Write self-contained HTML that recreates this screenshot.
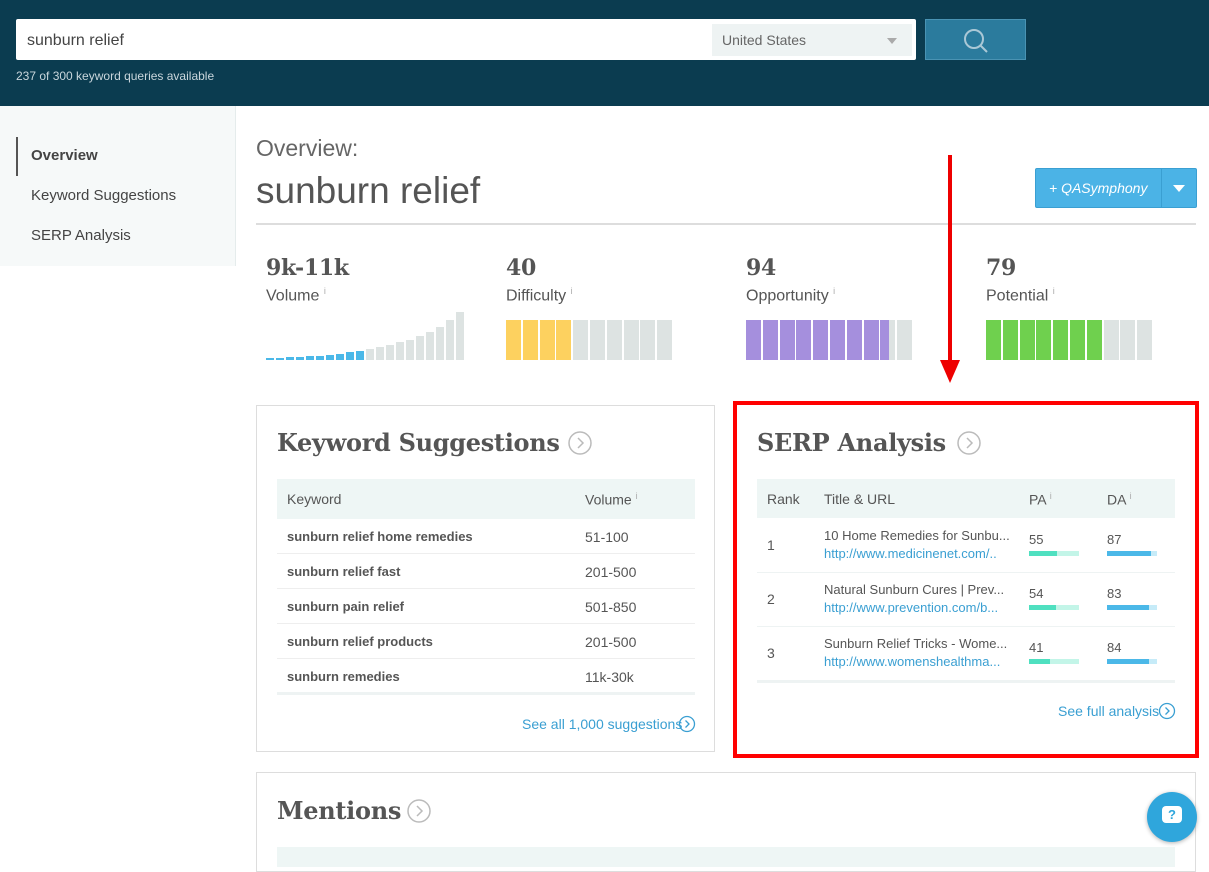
<!DOCTYPE html><html><head><style>
body{margin:0;width:1209px;height:861px;overflow:hidden;background:#fff;font-family:"Liberation Sans",sans-serif;color:#555;position:relative}
.a{position:absolute}
.slab{font-family:"DejaVu Serif","Liberation Serif",serif;font-weight:bold;color:#555;letter-spacing:-0.3px}
.bar{position:absolute;bottom:0}
</style></head><body>
<div class="a" style="left:0;top:0;width:1209px;height:106px;background:#0b3c50"></div>
<div class="a" style="left:16px;top:19px;width:900px;height:41px;background:#fff;border-radius:2px"></div>
<div class="a" style="left:27px;top:32px;font-size:16px;color:#444">sunburn relief</div>
<div class="a" style="left:712px;top:24px;width:200px;height:32px;background:#eef3f3"></div>
<div class="a" style="left:722px;top:32px;font-size:14px;color:#666">United States</div>
<div class="a" style="left:887px;top:38px;border:5px solid transparent;border-top:6px solid #aaa;width:0;height:0"></div>
<div class="a" style="left:925px;top:19px;width:101px;height:41px;background:#2b7b9d;border:1px solid #4a93b3;box-sizing:border-box"></div>
<svg class="a" style="left:962px;top:27px" width="28" height="28"><circle cx="12" cy="12" r="9" fill="none" stroke="#aac8d6" stroke-width="2"/><line x1="18" y1="18" x2="25" y2="25" stroke="#aac8d6" stroke-width="2"/></svg>
<div class="a" style="left:16px;top:69px;font-size:12px;color:#c9d6dc">237 of 300 keyword queries available</div>

<div class="a" style="left:0;top:106px;width:235px;height:160px;background:#f6f9f9;border-right:1px solid #e5ecec"></div>
<div class="a" style="left:16px;top:137px;width:2px;height:39px;background:#555"></div>
<div class="a" style="left:31px;top:147px;font-size:15px;font-weight:bold;color:#444">Overview</div>
<div class="a" style="left:31px;top:187px;font-size:15px;color:#444">Keyword Suggestions</div>
<div class="a" style="left:31px;top:227px;font-size:15px;color:#444">SERP Analysis</div>

<div class="a" style="left:256px;top:135px;font-size:23px;color:#666;font-weight:300">Overview:</div>
<div class="a" style="left:256px;top:170px;font-size:37px;color:#555">sunburn relief</div>
<div class="a" style="left:256px;top:223px;width:940px;height:2px;background:#ddd"></div>
<div class="a" style="left:1035px;top:168px;width:162px;height:40px;background:#4bb3e6;border:1px solid #3a9fd2;box-sizing:border-box;border-radius:2px"></div>
<div class="a" style="left:1161px;top:168px;width:1px;height:40px;background:#3a9fd2"></div>
<div class="a" style="left:1049px;top:180px;font-size:14px;color:#fff;font-style:italic">+ QASymphony</div>
<div class="a" style="left:1173px;top:185px;border:6px solid transparent;border-top:7px solid #fff;width:0;height:0"></div>

<div class="a slab" style="left:266px;top:255px;font-size:22px">9k-11k</div>
<div class="a" style="left:266px;top:286px;font-size:16px">Volume <sup style="font-size:9px;color:#aaa">i</sup></div>
<div class="a slab" style="left:506px;top:255px;font-size:22px">40</div>
<div class="a" style="left:506px;top:286px;font-size:16px">Difficulty <sup style="font-size:9px;color:#aaa">i</sup></div>
<div class="a slab" style="left:746px;top:255px;font-size:22px">94</div>
<div class="a" style="left:746px;top:286px;font-size:16px">Opportunity <sup style="font-size:9px;color:#aaa">i</sup></div>
<div class="a slab" style="left:986px;top:255px;font-size:22px">79</div>
<div class="a" style="left:986px;top:286px;font-size:16px">Potential <sup style="font-size:9px;color:#aaa">i</sup></div>

<div class="a" id="vol" style="left:266px;top:300px;width:200px;height:60px"></div>
<div class="a" id="dif" style="left:506px;top:320px;width:170px;height:40px"></div>
<div class="a" id="opp" style="left:746px;top:320px;width:170px;height:40px"></div>
<div class="a" id="pot" style="left:986px;top:320px;width:170px;height:40px"></div>

<svg class="a" style="left:935px;top:155px" width="30" height="230"><line x1="15" y1="0" x2="15" y2="205" stroke="#e00" stroke-width="4"/><polygon points="5,205 25,205 15,228" fill="#e00"/></svg>

<div class="a" style="left:256px;top:405px;width:459px;height:347px;border:1px solid #ddd;box-sizing:border-box"></div>
<div class="a slab" style="left:277px;top:428px;font-size:24px">Keyword Suggestions</div>
<svg class="a" style="left:568px;top:431px" width="26" height="26"><circle cx="12" cy="12" r="11" fill="none" stroke="#bbb" stroke-width="1.5"/><polyline points="10,7 15,12 10,17" fill="none" stroke="#bbb" stroke-width="1.5"/></svg>
<div class="a" style="left:277px;top:479px;width:418px;height:40px;background:#eef6f5"></div>
<div class="a" style="left:287px;top:491px;font-size:14px;color:#555">Keyword</div>
<div class="a" style="left:585px;top:491px;font-size:14px;color:#555">Volume <sup style="font-size:9px;color:#aaa">i</sup></div>
<div class="a" style="left:277px;top:692px;width:418px;height:3px;background:#eef3f3"></div>
<div class="a" style="left:522px;top:716px;font-size:14px;color:#3a9fd2">See all 1,000 suggestions</div>
<svg class="a" style="left:678px;top:715px" width="18" height="18"><circle cx="9" cy="9" r="7.5" fill="none" stroke="#3a9fd2" stroke-width="1.3"/><polyline points="7.5,5.5 11,9 7.5,12.5" fill="none" stroke="#3a9fd2" stroke-width="1.3"/></svg>

<div class="a" style="left:733px;top:401px;width:466px;height:357px;border:4px solid #f00;box-sizing:border-box"></div>
<div class="a slab" style="left:757px;top:428px;font-size:24px">SERP Analysis</div>
<svg class="a" style="left:957px;top:431px" width="26" height="26"><circle cx="12" cy="12" r="11" fill="none" stroke="#bbb" stroke-width="1.5"/><polyline points="10,7 15,12 10,17" fill="none" stroke="#bbb" stroke-width="1.5"/></svg>
<div class="a" style="left:757px;top:479px;width:418px;height:39px;background:#eef6f5"></div>
<div class="a" style="left:767px;top:491px;font-size:14px">Rank</div>
<div class="a" style="left:824px;top:491px;font-size:14px">Title &amp; URL</div>
<div class="a" style="left:1029px;top:491px;font-size:14px">PA <sup style="font-size:9px;color:#aaa">i</sup></div>
<div class="a" style="left:1107px;top:491px;font-size:14px">DA <sup style="font-size:9px;color:#aaa">i</sup></div>
<div class="a" style="left:757px;top:680px;width:418px;height:3px;background:#eef3f3"></div>
<div class="a" style="left:1058px;top:703px;font-size:14px;color:#3a9fd2">See full analysis</div>
<svg class="a" style="left:1158px;top:702px" width="18" height="18"><circle cx="9" cy="9" r="7.5" fill="none" stroke="#3a9fd2" stroke-width="1.3"/><polyline points="7.5,5.5 11,9 7.5,12.5" fill="none" stroke="#3a9fd2" stroke-width="1.3"/></svg>

<div class="a" style="left:256px;top:772px;width:940px;height:100px;border:1px solid #ddd;box-sizing:border-box"></div>
<div class="a slab" style="left:277px;top:796px;font-size:24px">Mentions</div>
<svg class="a" style="left:407px;top:799px" width="26" height="26"><circle cx="12" cy="12" r="11" fill="none" stroke="#bbb" stroke-width="1.5"/><polyline points="10,7 15,12 10,17" fill="none" stroke="#bbb" stroke-width="1.5"/></svg>
<div class="a" style="left:277px;top:847px;width:898px;height:20px;background:#eef6f5"></div>
<div class="a" style="left:1147px;top:792px;width:50px;height:50px;border-radius:50%;background:#2fa6dc;box-shadow:0 1px 4px rgba(0,0,0,.3)"></div>
<div class="a" style="left:1162px;top:806px;width:20px;height:17px;background:#fff;border-radius:4px;color:#2fa6dc;font-size:13px;font-weight:bold;text-align:center;line-height:17px">?</div>
<script>
function h(s){document.body.insertAdjacentHTML('beforeend',s)}
var vh=[2,2,3,3,4,4,5,6,8,9,11,13,15,18,20,24,28,33,40,48],v='';
vh.forEach(function(x,i){v+='<div class="bar" style="left:'+(i*10)+'px;width:8px;height:'+x+'px;background:'+(i<10?'#4bb8e8':'#dde3e2')+'"></div>'});
document.getElementById('vol').innerHTML=v;
function seg(id,n,c,part){var s='';for(var i=0;i<10;i++){var col=i<n?c:'#dde3e2';s+='<div class="bar" style="left:'+(i*16.8)+'px;width:15px;height:40px;background:'+col+'"></div>';}
if(part)s+='<div class="bar" style="left:'+(n*16.8)+'px;width:'+part+'px;height:40px;background:'+c+'"></div>';document.getElementById(id).innerHTML=s}
seg('dif',4,'#fdd15f');seg('opp',8,'#a58fdd',9);seg('pot',7,'#6fd04e');
var kw=[['sunburn relief home remedies','51-100'],['sunburn relief fast','201-500'],['sunburn pain relief','501-850'],['sunburn relief products','201-500'],['sunburn remedies','11k-30k']];
kw.forEach(function(k,i){var y=519+i*35;h('<div class="a" style="left:287px;top:'+(y+10)+'px;font-size:13px;font-weight:bold;color:#555">'+k[0]+'</div><div class="a" style="left:585px;top:'+(y+10)+'px;font-size:14px">'+k[1]+'</div>'+(i<4?'<div class="a" style="left:277px;top:'+(y+34)+'px;width:418px;height:1px;background:#eee"></div>':''))});
var sr=[['10 Home Remedies for Sunbu...','http://www.medicinenet.com/..',55,87],['Natural Sunburn Cures | Prev...','http://www.prevention.com/b...',54,83],['Sunburn Relief Tricks - Wome...','http://www.womenshealthma...',41,84]];
sr.forEach(function(r,i){var y=518+i*54;h('<div class="a" style="left:767px;top:'+(y+19)+'px;font-size:14px">'+(i+1)+'</div><div class="a" style="left:824px;top:'+(y+10)+'px;font-size:13px;color:#555">'+r[0]+'</div><div class="a" style="left:824px;top:'+(y+28)+'px;font-size:13px;color:#3a9fd2">'+r[1]+'</div><div class="a" style="left:1029px;top:'+(y+14)+'px;font-size:13px">'+r[2]+'</div><div class="a" style="left:1029px;top:'+(y+33)+'px;width:50px;height:5px;background:#c3f5e8"><div style="width:'+r[2]*0.5+'px;height:5px;background:#4fe0c0"></div></div><div class="a" style="left:1107px;top:'+(y+14)+'px;font-size:13px">'+r[3]+'</div><div class="a" style="left:1107px;top:'+(y+33)+'px;width:50px;height:5px;background:#c6ebf8"><div style="width:'+r[3]*0.5+'px;height:5px;background:#4bb8e8"></div></div>'+(i<2?'<div class="a" style="left:757px;top:'+(y+54)+'px;width:418px;height:1px;background:#eef3f3"></div>':''))});
</script>
</body></html>
